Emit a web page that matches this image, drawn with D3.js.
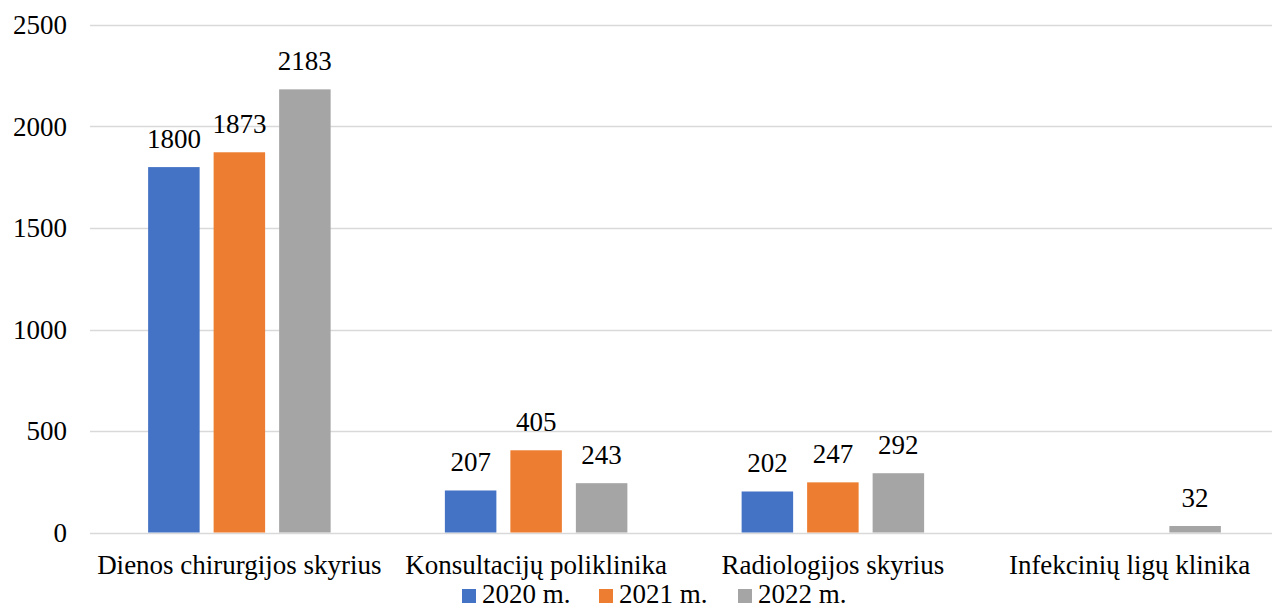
<!DOCTYPE html>
<html>
<head>
<meta charset="utf-8">
<script src="https://cdn.jsdelivr.net/npm/d3@7"></script>
<style>
  body { margin: 0; background: #fff; }
</style>
</head>
<body>
<svg width="1272" height="608"></svg>
<script>
// categories and series
var categories = ["Dienos chirurgijos skyrius", "Konsultacijų poliklinika", "Radiologijos skyrius", "Infekcinių ligų klinika"]
var seriesNames = ["2020 m.", "2021 m.", "2022 m."]
var values2020 = [1800, 207, 202, null]
var values2021 = [1873, 405, 247, null]
var values2022 = [2183, 243, 292, 32]
var yTicks = [0, 500, 1000, 1500, 2000, 2500]
var colors = ["#4472C4", "#ED7D31", "#A5A5A5"]

var font = "'Liberation Serif', 'Times New Roman', Tinos, 'DejaVu Serif', serif"
var fontSize = 27

var svg = d3.select("svg"),
    width = +svg.attr("width"),
    height = +svg.attr("height")

var plot = {left: 91, right: 1278, top: 25, bottom: 532.5}

var y = d3.scaleLinear().domain([0, 2500]).range([plot.bottom, plot.top])

var x0 = d3.scaleBand().domain(categories).range([plot.left, plot.right]).padding(0)

// bars are ~51.5px with ~14px gaps inside a group
var groupW = 182.5
var x1 = d3.scaleBand().domain(seriesNames).range([0, groupW]).paddingInner(0.2137).paddingOuter(0)

var color = d3.scaleOrdinal().domain(seriesNames).range(colors)

var allSeries = [values2020, values2021, values2022]

// gridlines
svg.append("g")
  .selectAll("line")
  .data(yTicks)
  .enter().append("line")
    .attr("x1", 90)
    .attr("x2", width)
    .attr("y1", function(d) { return Math.round(y(d)) + 0.5 })
    .attr("y2", function(d) { return Math.round(y(d)) + 0.5 })
    .attr("stroke", "#d9d9d9")
    .attr("stroke-width", 1.5)

// y tick labels
svg.append("g")
  .selectAll("text")
  .data(yTicks)
  .enter().append("text")
    .attr("x", 67)
    .attr("y", function(d) { return y(d) })
    .attr("dy", "0.34em")
    .attr("text-anchor", "end")
    .attr("font-family", font)
    .attr("font-size", fontSize)
    .text(function(d) { return d })

// bars
var rows = []
categories.forEach(function(c, i) {
  seriesNames.forEach(function(s, j) {
    var v = allSeries[j][i]
    if (v != null) rows.push({cat: c, series: s, value: v})
  })
})

var offset = (x0.bandwidth() - groupW) / 2

svg.append("g")
  .selectAll("rect")
  .data(rows)
  .enter().append("rect")
    .attr("x", function(d) { return x0(d.cat) + offset + x1(d.series) })
    .attr("y", function(d) { return y(d.value) })
    .attr("width", x1.bandwidth())
    .attr("height", function(d) { return y(0) - y(d.value) })
    .attr("fill", function(d) { return color(d.series) })

// value labels
svg.append("g")
  .selectAll("text")
  .data(rows)
  .enter().append("text")
    .attr("x", function(d) { return x0(d.cat) + offset + x1(d.series) + x1.bandwidth() / 2 })
    .attr("y", function(d) { return y(d.value) - 19 })
    .attr("text-anchor", "middle")
    .attr("font-family", font)
    .attr("font-size", fontSize)
    .text(function(d) { return d.value })

// category labels
svg.append("g")
  .selectAll("text")
  .data(categories)
  .enter().append("text")
    .attr("x", function(d) { return x0(d) + x0.bandwidth() / 2 })
    .attr("y", 574)
    .attr("text-anchor", "middle")
    .attr("font-family", font)
    .attr("font-size", fontSize)
    .text(function(d) { return d })

// legend
var legendX = [462, 599, 738]
var legend = svg.append("g")
  .selectAll("g")
  .data(seriesNames)
  .enter().append("g")
    .attr("transform", function(d, i) { return "translate(" + legendX[i] + ",0)" })

legend.append("rect")
    .attr("x", 0)
    .attr("y", 589)
    .attr("width", 14)
    .attr("height", 14)
    .attr("fill", function(d) { return color(d) })

legend.append("text")
    .attr("x", 20)
    .attr("y", 603)
    .attr("font-family", font)
    .attr("font-size", fontSize)
    .text(function(d) { return d })
</script>
</body>
</html>
